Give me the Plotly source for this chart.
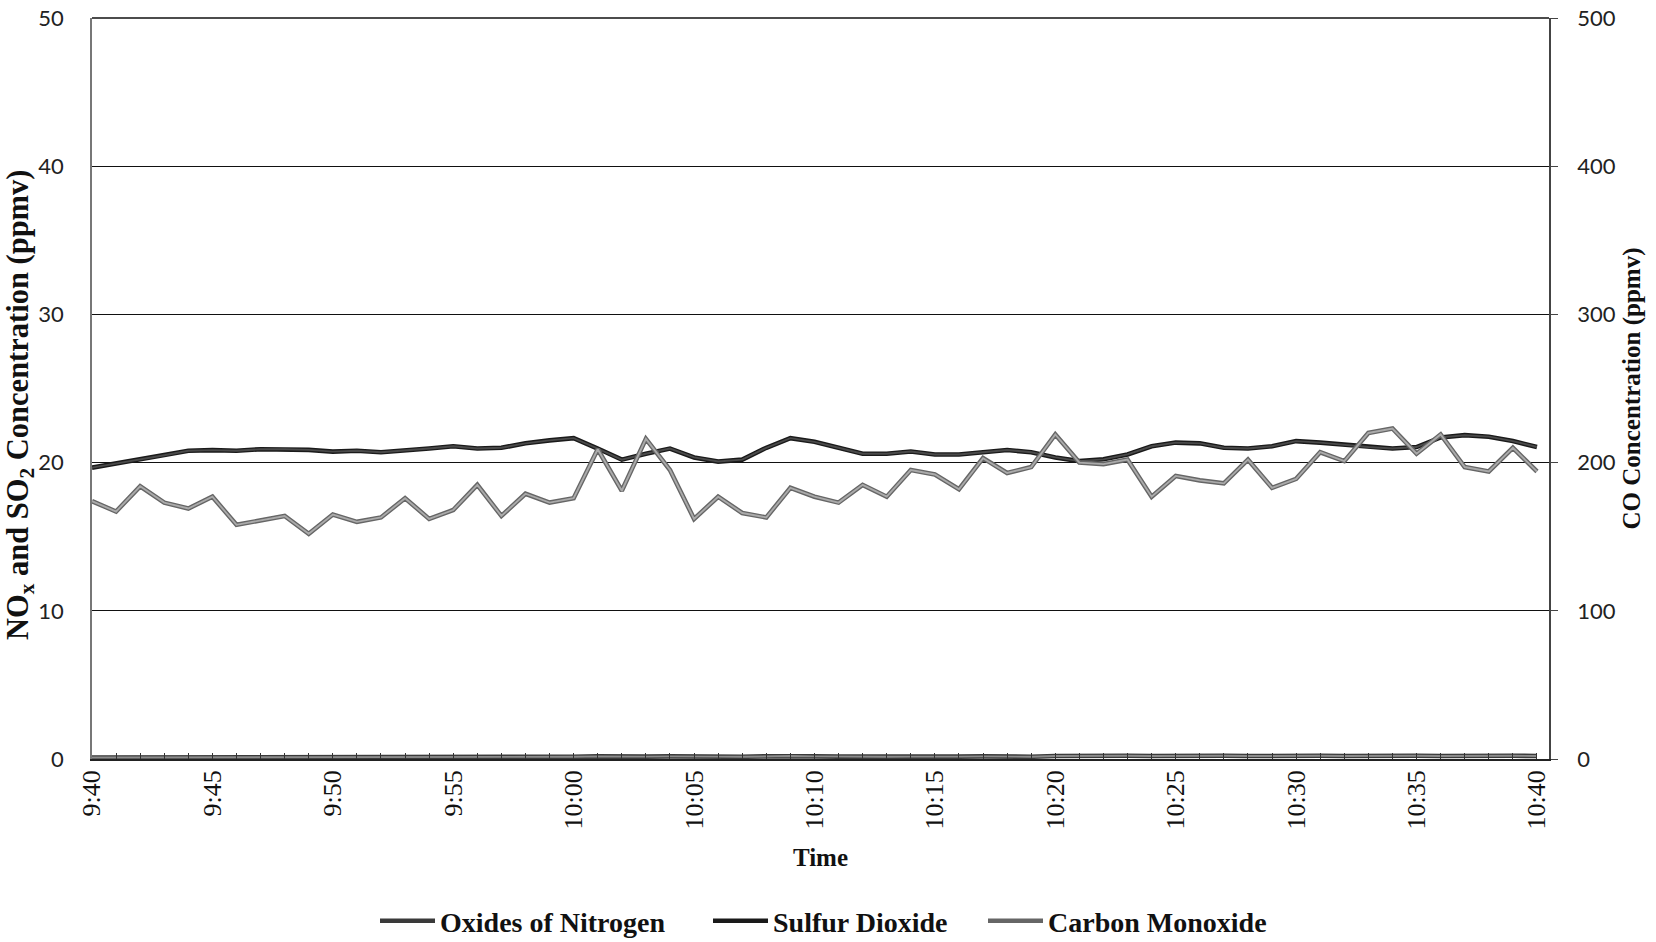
import plotly.graph_objects as go
import pandas as pd

# ---- data (per-minute readings, 9:40 - 10:40) ----
times = pd.date_range("2000-01-01 09:40", "2000-01-01 10:40", freq="1min")

nox = [0.10, 0.10, 0.10, 0.12, 0.10, 0.10, 0.11, 0.10, 0.10, 0.12,
       0.10, 0.10, 0.10, 0.11, 0.10, 0.10, 0.12, 0.10, 0.10, 0.12,
       0.15, 0.18, 0.15, 0.16, 0.18, 0.15, 0.16, 0.15, 0.18, 0.20,
       0.18, 0.16, 0.15, 0.15, 0.16, 0.15, 0.16, 0.18, 0.16, 0.15,
       0.20, 0.22, 0.20, 0.22, 0.20, 0.22, 0.20, 0.22, 0.20, 0.22,
       0.20, 0.22, 0.20, 0.22, 0.20, 0.22, 0.20, 0.22, 0.20, 0.22,
       0.20]

so2 = [19.66, 19.93, 20.2, 20.5, 20.8,
       20.84, 20.8, 20.9, 20.9, 20.86,
       20.74, 20.8, 20.7, 20.8, 20.95,
       21.1, 20.95, 21.0, 21.3, 21.5,
       21.65, 20.95, 20.2, 20.6, 20.95,
       20.35, 20.07, 20.2, 21.0, 21.65,
       21.4, 21.0, 20.6, 20.6, 20.75,
       20.55, 20.55, 20.7, 20.85, 20.7,
       20.35, 20.1, 20.22, 20.55, 21.1,
       21.35, 21.3, 21.0, 20.95, 21.1,
       21.45, 21.35, 21.2, 21.05, 20.95,
       21.05, 21.7, 21.85, 21.75, 21.45,
       21.05]

co = [174, 167, 184, 173, 169,
      177, 158, 161, 164, 152,
      165, 160, 163, 176, 162,
      168, 185, 164, 179, 173,
      176, 209, 181, 216, 195,
      162, 177, 166, 163, 183,
      177, 173, 185, 177, 195,
      192, 182, 203, 193, 197,
      219, 200, 199, 202, 177,
      191, 188, 186, 202, 183,
      189, 207, 201, 220, 223,
      206, 219, 197, 194, 210,
      194]

names = ["Oxides of Nitrogen", "Sulfur Dioxide", "Carbon Monoxide"]
y_left_title = "NO<sub>x</sub> and SO<sub>2</sub> Concentration (ppmv)"
y_right_title = "CO Concentration (ppmv)"
x_title = "Time"

SERIF = "Liberation Serif, Times New Roman, serif"
SANS = "Lato, Open Sans, sans-serif"

fig = go.Figure()

def add_series(y, name, outer, inner, yaxis, legend, w_out=4.6, w_in=1.9):
    fig.add_trace(go.Scatter(x=times, y=y, mode="lines", name=name,
                             line=dict(color=outer, width=w_out),
                             yaxis=yaxis, legend=legend, showlegend=True))
    fig.add_trace(go.Scatter(x=times, y=y, mode="lines", name=name,
                             line=dict(color=inner, width=w_in),
                             yaxis=yaxis, showlegend=False, hoverinfo="skip"))

add_series(nox, names[0], "#3a3a3a", "#8c8c8c", "y", "legend")
add_series(so2, names[1], "#1a1a1a", "#4a4a4a", "y", "legend2")
add_series(co, names[2], "#666666", "#aaaaaa", "y2", "legend3")

# the page's body margin is removed below, so figure pixels == page pixels
fig_w, fig_h = 1656, 942
# plot area in page pixels
L, R, T, B = 92, 1549, 18, 759
pw, ph = R - L, B - T

def lx(px):
    return (px - L) / pw

def ly(py):
    return (B - py) / ph

legend_common = dict(orientation="h", xanchor="left", yanchor="middle",
                     font=dict(family=SERIF, size=28, color="#111", weight="bold"),
                     bgcolor="rgba(0,0,0,0)", itemwidth=55,
                     tracegroupgap=0)

fig.update_layout(
    width=fig_w, height=fig_h,
    margin=dict(l=L, r=fig_w - R, t=T, b=fig_h - B, autoexpand=False),
    paper_bgcolor="white", plot_bgcolor="white",
    legend=dict(x=lx(375), y=ly(921), **legend_common),
    legend2=dict(x=lx(708), y=ly(921), **legend_common),
    legend3=dict(x=lx(983), y=ly(921), **legend_common),
    xaxis=dict(
        type="date",
        range=["2000-01-01 09:40:00", "2000-01-01 10:40:30"],
        dtick=300000, tick0="2000-01-01 09:40:00",
        tickformat="%-H:%M", tickangle=-90,
        tickfont=dict(family=SERIF, size=26, color="#111"),
        ticks="inside", ticklen=6, tickcolor="#333", tickwidth=1,
        minor=dict(dtick=60000, ticks="inside", ticklen=6, tickcolor="#333", tickwidth=1),
        showline=True, linecolor="#222", linewidth=1.6, mirror=False,
        showgrid=False, zeroline=False,
        ticklabelstandoff=-1, ticklabeloverflow="allow",
        title=dict(text="<b>%s</b>" % x_title, font=dict(family=SERIF, size=25, color="#111"), standoff=20),
        automargin=False,
    ),
    yaxis=dict(
        range=[0, 50], dtick=10,
        tickfont=dict(family=SANS, size=22, color="#222"),
        showgrid=True, gridcolor="#111", gridwidth=1.4,
        showline=True, linecolor="#777", linewidth=1.5,
        zeroline=False, ticks="",
        ticklabelstandoff=22, ticklabeloverflow="allow",
        automargin=False,
    ),
    yaxis2=dict(
        range=[0, 500], dtick=100, overlaying="y", side="right",
        tickfont=dict(family=SANS, size=22, color="#222"),
        showgrid=False, zeroline=False,
        showline=True, linecolor="#444", linewidth=1.5,
        ticks="outside", ticklen=7, tickcolor="#444", tickwidth=1.2,
        ticklabelstandoff=15, ticklabeloverflow="allow",
        title=dict(text="<b>%s</b>" % y_right_title, font=dict(family=SERIF, size=25, color="#111"), standoff=8),
        automargin=False,
    ),
)

# left axis title (rotated text, centred where the reference has it)
fig.add_annotation(text="<b>%s</b>" % y_left_title, textangle=-90,
                   xref="paper", yref="paper", x=lx(20), y=ly(405),
                   xanchor="center", yanchor="middle", showarrow=False,
                   font=dict(family=SERIF, size=30.5, color="#111"))

# top border (the 50 / 500 grid line)
fig.add_shape(type="line", xref="paper", yref="paper", x0=0, x1=1, y0=1, y1=1,
              line=dict(color="#111", width=1.4))

fig.write_html("out.html",
               config={"displayModeBar": False},
               post_script="document.body.style.margin='0px';"
                           "document.body.style.overflow='hidden';")
